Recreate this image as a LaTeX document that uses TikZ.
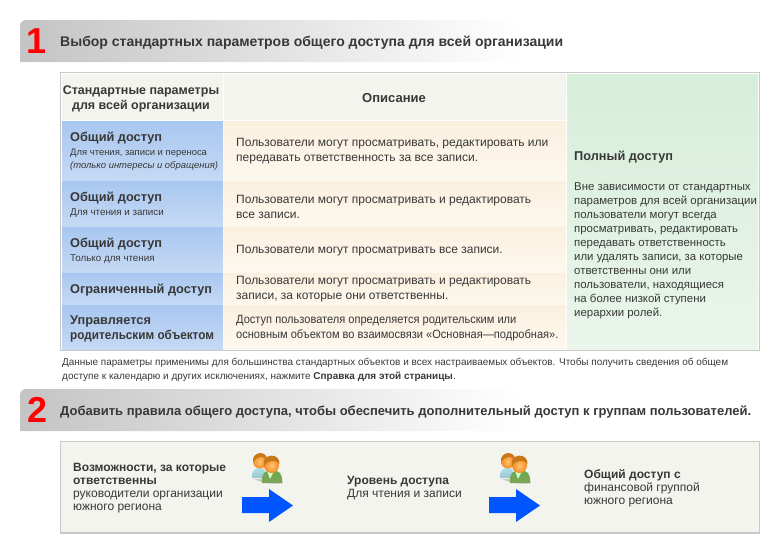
\documentclass[tikz,border=0pt]{standalone}
\usepackage{fontspec}
\setmainfont{Liberation Sans}
\usepackage{tikz}
\usetikzlibrary{positioning}
\definecolor{bargray}{RGB}{196,196,196}
\definecolor{frame}{RGB}{200,200,200}
\definecolor{headgray}{RGB}{243,244,238}
\definecolor{cellblue}{RGB}{168,199,240}
\definecolor{cellbluelo}{RGB}{198,217,244}
\definecolor{cellorange}{RGB}{251,240,223}
\definecolor{cellorangelo}{RGB}{253,248,238}
\definecolor{cellgreen}{RGB}{215,238,219}
\definecolor{cellgreenlo}{RGB}{234,245,235}
\definecolor{txtdark}{RGB}{56,56,56}
\definecolor{arrowblue}{RGB}{0,85,255}
\definecolor{numred}{RGB}{255,0,0}
\definecolor{skinlight}{RGB}{255,195,110}
\definecolor{skindark}{RGB}{245,140,40}
\definecolor{hairbrown}{RGB}{200,120,25}
\definecolor{bodycyan}{RGB}{170,225,235}
\definecolor{bodygreen}{RGB}{105,170,75}
\definecolor{bodygreenlo}{RGB}{125,165,90}
\tikzset{
  numtxt/.style={font=\fontsize{36}{36}\selectfont\bfseries, text=numred, inner sep=0pt},
  bartxt/.style={font=\fontsize{13}{15}\selectfont\bfseries, text=txtdark, inner sep=0pt, anchor=west},
  headtxt/.style={font=\fontsize{13}{15}\selectfont\bfseries, text=txtdark, inner sep=0pt, align=center},
  nametxt/.style={font=\fontsize{12.75}{15}\selectfont\bfseries, text=txtdark, inner sep=0pt, anchor=west, align=left},
  subtxt/.style={font=\fontsize{9.8}{13}\selectfont, text=txtdark, inner sep=0pt, anchor=west},
  desctxt/.style={font=\fontsize{12}{15}\selectfont, text=txtdark, inner sep=0pt, anchor=west, align=left},
  sidetxt/.style={font=\fontsize{11.4}{14}\selectfont, text=txtdark, inner sep=0pt, anchor=west, align=left},
  notetxt/.style={font=\fontsize{9.97}{14}\selectfont, text=txtdark, inner sep=0pt, anchor=west, align=left},
  flowtxt/.style={font=\fontsize{12}{13}\selectfont, text=txtdark, inner sep=0pt, anchor=west, align=left},
  blockarrow/.style={fill=arrowblue},
  people/.pic={
    % Shadow
    \fill[gray!45] (3,27) .. controls (8,30) and (22,33) .. (32,31) -- (30,27) -- cycle;
    % Back person
    \shade[top color=bodycyan, bottom color=bodycyan!70!gray] (1,26) .. controls (0,19) and (4,16) .. (9,16) .. controls (13,16) and (15,18) .. (15,26) -- cycle;
    \shade[inner color=skinlight, outer color=skindark] (9,9.5) circle (7);
    \fill[hairbrown] (2,10) .. controls (0.5,-1) and (16.5,-2) .. (16,8) .. controls (12,3) and (7,4) .. (2,10) -- cycle;
    % Front person
    \shade[top color=bodygreen, bottom color=bodygreenlo] (11,31) .. controls (10,21) and (15,18) .. (21,18) .. controls (27,18) and (32,21) .. (31,31) -- cycle;
    \fill[white!80!green] (16,19) -- (23,19) -- (19,27) -- cycle;
    \shade[inner color=skinlight, outer color=skindark] (20.5,13.5) circle (7.5);
    \fill[hairbrown] (12.5,14) .. controls (10.5,0.5) and (29.5,0.5) .. (28.5,12) .. controls (24,7) and (18,8) .. (12.5,14) -- cycle;
  }
}
\begin{document}
\begin{tikzpicture}[x=1pt, y=-1pt]
  \useasboundingbox (0,0) rectangle (780,554);

  % Step bars
  \shade[left color=bargray, right color=white] (20,62) [rounded corners=6pt] -- (20,20) [sharp corners] -- (520,20) -- (520,62) -- cycle;
  \shade[left color=bargray, right color=white] (20,431) [rounded corners=6pt] -- (20,389) [sharp corners] -- (520,389) -- (520,431) -- cycle;
  \node[numtxt] (num1) at (37,41) {1};
  \node[numtxt] (num2) at (38,410) {2};
  \node[bartxt, font=\fontsize{14}{15}\selectfont\bfseries] (bar1) at (60,43) {Выбор стандартных параметров общего доступа для всей организации};
  \node[bartxt] (bar2) at (60,412) {Добавить правила общего доступа, чтобы обеспечить дополнительный доступ к группам пользователей.};

  % Table frame
  \draw[frame, line width=1.3pt] (60.5,72.5) rectangle (759.5,350.5);

  % Header cells
  \fill[headgray] (62,74) rectangle (223,120);
  \fill[headgray] (224,74) rectangle (566,120);
  \node[headtxt, font=\fontsize{12.5}{15}\selectfont\bfseries] (headname) at (141,98.5) {Стандартные параметры\\для всей организации};
  \node[headtxt] (headdesc) at (394,98) {Описание};

  % Left column
  \shade[top color=cellblue, bottom color=cellbluelo] (62,121) rectangle (223,180);
  \shade[top color=cellblue, bottom color=cellbluelo] (62,181) rectangle (223,226);
  \shade[top color=cellblue, bottom color=cellbluelo] (62,227) rectangle (223,272);
  \shade[top color=cellblue, bottom color=cellbluelo] (62,273) rectangle (223,304);
  \shade[top color=cellblue, bottom color=cellbluelo] (62,305) rectangle (223,349);

  % Middle column
  \shade[top color=cellorange, bottom color=cellorangelo] (224,121) rectangle (566,180);
  \shade[top color=cellorange, bottom color=cellorangelo] (224,181) rectangle (566,226);
  \shade[top color=cellorange, bottom color=cellorangelo] (224,227) rectangle (566,272);
  \shade[top color=cellorange, bottom color=cellorangelo] (224,273) rectangle (566,304);
  \shade[top color=cellorange, bottom color=cellorangelo] (224,305) rectangle (566,349);

  % Right column
  \shade[top color=cellgreen, bottom color=cellgreenlo] (567,74) rectangle (758,349);

  % Level names
  \node[nametxt] (name1) at (70,138) {Общий доступ};
  \node[subtxt, font=\fontsize{9.45}{13}\selectfont] (sub1) at (70,153) {Для чтения, записи и переноса};
  \node[subtxt, font=\fontsize{9.45}{13}\selectfont] (sub1b) at (70,166) {\itshape (только интересы и обращения)};
  \node[nametxt] (name2) at (70,198) {Общий доступ};
  \node[subtxt] (sub2) at (70,213) {Для чтения и записи};
  \node[nametxt] (name3) at (70,244) {Общий доступ};
  \node[subtxt] (sub3) at (70,259) {Только для чтения};
  \node[nametxt] (name4) at (70,290) {Ограниченный доступ};
  \node[nametxt] (name5) at (70,328.5) {Управляется\\\addfontfeature{FakeStretch=0.92}родительским объектом};

  % Descriptions
  \node[desctxt] (desc1) at (236,151.5) {Пользователи могут просматривать, редактировать или\\передавать ответственность за все записи.};
  \node[desctxt] (desc2) at (236,206.5) {Пользователи могут просматривать и редактировать\\все записи.};
  \node[desctxt] (desc3) at (236,251) {Пользователи могут просматривать все записи.};
  \node[desctxt] (desc4) at (236,289.5) {Пользователи могут просматривать и редактировать\\записи, за которые они ответственны.};
  \node[desctxt, font=\fontsize{12}{15}\selectfont\addfontfeature{FakeStretch=0.922}] (desc5) at (236,328.5) {Доступ пользователя определяется родительским или\\основным объектом во взаимосвязи «Основная—подробная».};

  % Full access
  \node[nametxt] (fullname) at (574,157) {Полный доступ};
  \node[sidetxt] (fulldesc) at (574,251) {Вне зависимости от стандартных\\параметров для всей организации\\пользователи могут всегда\\просматривать, редактировать\\передавать ответственность\\или удалять записи, за которые\\ответственны они или\\пользователи, находящиеся\\на более низкой ступени\\иерархии ролей.};

  % Note
  \node[notetxt] (note) at (62,370) {Данные параметры применимы для большинства стандартных объектов и всех настраиваемых объектов. Чтобы получить сведения об общем\\доступе к календарю и других исключениях, нажмите \textbf{Справка для этой страницы}.};

  % Example box
  \draw[frame, line width=1.3pt, fill=headgray] (60.5,441.5) rectangle (759.5,533);
  \node[flowtxt] (who) at (73,488) {\textbf{Возможности, за которые}\\\textbf{ответственны}\\руководители организации\\южного региона};
  \node[flowtxt] (level) at (347,488.5) {\textbf{Уровень доступа}\\Для чтения и записи};
  \node[flowtxt] (share) at (584,488) {\textbf{Общий доступ с}\\финансовой группой\\южного региона};

  % Icons and arrows
  \pic at (251,452) {people};
  \pic at (499,452) {people};
  \fill[blockarrow] (242,497) -- (269,497) -- (269,489) -- (293,505.5) -- (269,522) -- (269,513) -- (242,513) -- cycle;
  \fill[blockarrow] (489,497) -- (516,497) -- (516,489) -- (540,505.5) -- (516,522) -- (516,513) -- (489,513) -- cycle;
\end{tikzpicture}
\end{document}
